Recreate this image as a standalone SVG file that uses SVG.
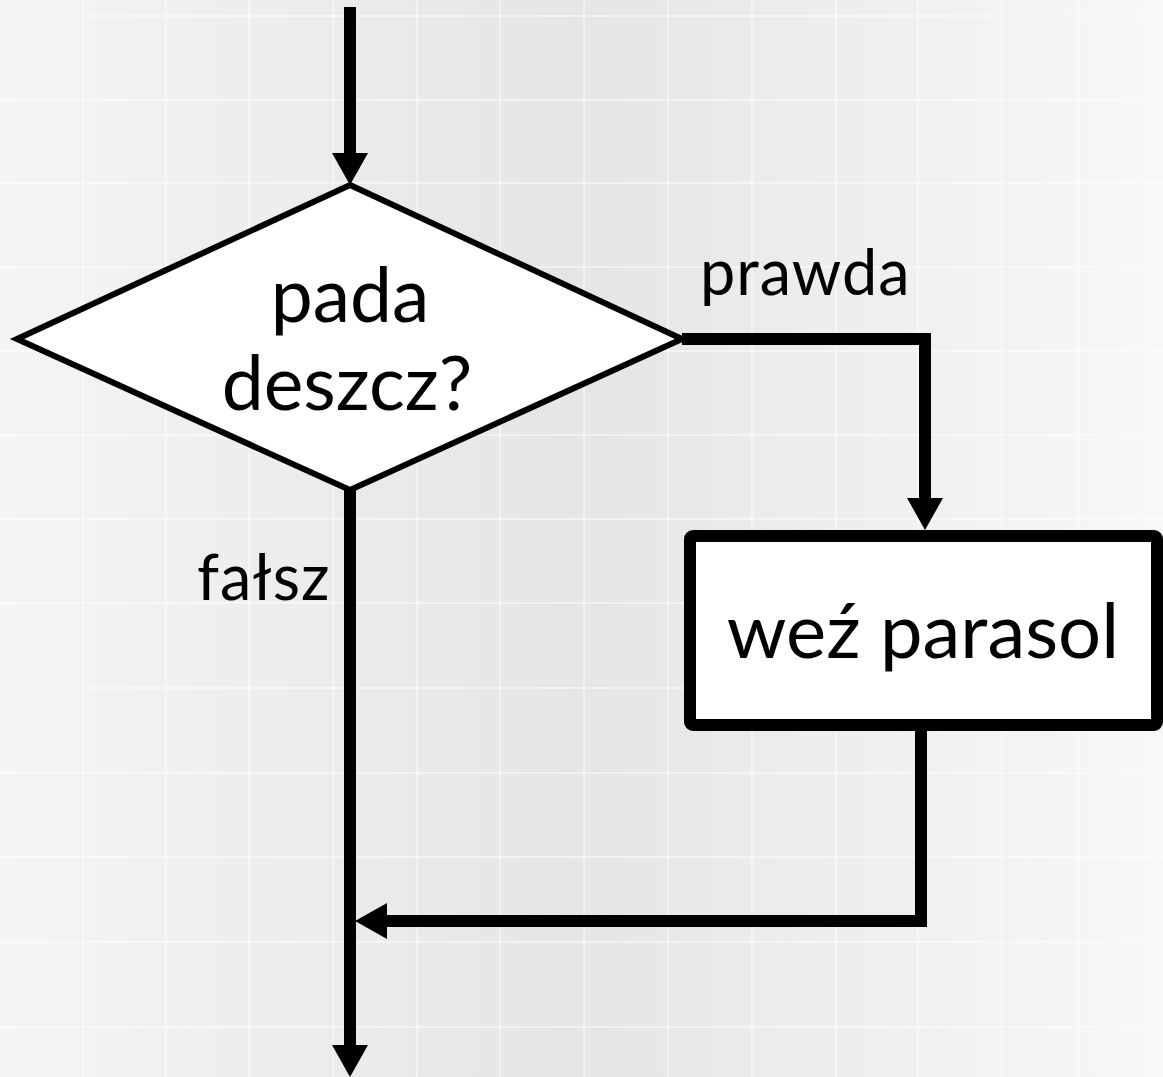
<svg xmlns="http://www.w3.org/2000/svg" width="1163" height="1077" viewBox="0 0 1163 1077">
  <defs>
    <linearGradient id="bg" x1="0" y1="0" x2="1" y2="0">
      <stop offset="0" stop-color="#f5f5f5"/>
      <stop offset="0.3" stop-color="#ebebeb"/>
      <stop offset="0.5" stop-color="#e5e5e5"/>
      <stop offset="0.75" stop-color="#efefef"/>
      <stop offset="1" stop-color="#f8f8f8"/>
    </linearGradient>
    <marker id="arrow" viewBox="0 0 32 36" markerWidth="32" markerHeight="36" refX="0" refY="18" orient="auto" markerUnits="userSpaceOnUse">
      <path d="M0,0 L32,18 L0,36 z" fill="#000"/>
    </marker>
  </defs>
  <style>
    .grid line { stroke: #ffffff; stroke-width: 1.5; opacity: 0.65; }
    .conn { fill: none; stroke: #000; stroke-width: 12; stroke-linejoin: miter; marker-end: url(#arrow); }
    .lbl { font-family: Lato, "Open Sans", sans-serif; fill: #000; }
  </style>
  <rect x="0" y="0" width="1163" height="1077" fill="url(#bg)"/>
  <g class="grid">
    <line x1="83" y1="0" x2="83" y2="1077"/>
    <line x1="166" y1="0" x2="166" y2="1077"/>
    <line x1="249" y1="0" x2="249" y2="1077"/>
    <line x1="333" y1="0" x2="333" y2="1077"/>
    <line x1="417" y1="0" x2="417" y2="1077"/>
    <line x1="500" y1="0" x2="500" y2="1077"/>
    <line x1="584" y1="0" x2="584" y2="1077"/>
    <line x1="668" y1="0" x2="668" y2="1077"/>
    <line x1="752" y1="0" x2="752" y2="1077"/>
    <line x1="836" y1="0" x2="836" y2="1077"/>
    <line x1="918" y1="0" x2="918" y2="1077"/>
    <line x1="1002" y1="0" x2="1002" y2="1077"/>
    <line x1="1078" y1="0" x2="1078" y2="1077"/>
    <line x1="0" y1="16" x2="1163" y2="16"/>
    <line x1="0" y1="100" x2="1163" y2="100"/>
    <line x1="0" y1="183" x2="1163" y2="183"/>
    <line x1="0" y1="267" x2="1163" y2="267"/>
    <line x1="0" y1="351" x2="1163" y2="351"/>
    <line x1="0" y1="435" x2="1163" y2="435"/>
    <line x1="0" y1="519" x2="1163" y2="519"/>
    <line x1="0" y1="603" x2="1163" y2="603"/>
    <line x1="0" y1="688" x2="1163" y2="688"/>
    <line x1="0" y1="773" x2="1163" y2="773"/>
    <line x1="0" y1="857" x2="1163" y2="857"/>
    <line x1="0" y1="942" x2="1163" y2="942"/>
    <line x1="0" y1="1027" x2="1163" y2="1027"/>
  </g>
  <g id="connectors">
    <path class="conn" d="M350,7 V153"/>
    <path class="conn" d="M682,339 H925 V498"/>
    <path class="conn" d="M921,731 V921 H387"/>
    <path class="conn" d="M350,490 V1045"/>
  </g>
  <g id="decision">
    <polygon points="350,185 682,339 350,490 17,339" fill="#fff" stroke="#000" stroke-width="6" stroke-linejoin="miter"/>
    <text class="lbl" x="350" y="322" font-size="75" text-anchor="middle">pada</text>
    <text class="lbl" x="347" y="410" font-size="75" text-anchor="middle">deszcz?</text>
  </g>
  <g id="action">
    <rect x="690" y="536" width="467" height="189" rx="3" fill="#fff" stroke="#000" stroke-width="12"/>
    <text class="lbl" x="923" y="658" font-size="76" text-anchor="middle">weź parasol</text>
  </g>
  <g id="label-true">
    <text class="lbl" x="700" y="295" font-size="63" letter-spacing="1">prawda</text>
  </g>
  <g id="label-false">
    <text class="lbl" x="197" y="600" font-size="63" letter-spacing="1">fałsz</text>
  </g>
</svg>
